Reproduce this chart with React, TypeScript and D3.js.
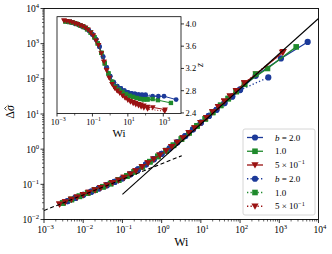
import React from "react";
import * as d3 from "d3";

// ---- data: b = 2.0 (blue) ----
const BS_WI = [0.004, 0.0063, 0.01, 0.016, 0.025, 0.04, 0.063, 0.1, 0.16, 0.25, 0.4, 0.63, 1, 1.6, 2.5, 4, 6.3, 10, 16, 25, 40, 63, 100, 250, 1100, 5300];
const BS_SIG = [0.0335, 0.0411, 0.0504, 0.0619, 0.0763, 0.0944, 0.117, 0.148, 0.194, 0.265, 0.37, 0.52, 0.735, 1.06, 1.57, 2.35, 3.66, 5.67, 8.84, 13.2, 20.5, 32, 50, 122, 380, 1120];
const BS_Z = [4.04, 4.03, 4.01, 3.99, 3.96, 3.93, 3.88, 3.81, 3.72, 3.59, 3.41, 3.22, 3.06, 2.95, 2.88, 2.84, 2.8, 2.77, 2.75, 2.74, 2.73, 2.72, 2.71, 2.7, 2.7, 2.64];
const BD_WI = [0.004, 0.0063, 0.01, 0.016, 0.025, 0.04, 0.063, 0.1, 0.16, 0.25, 0.4, 0.63, 1, 1.6, 2.5, 4, 6.3, 10, 16, 25, 40, 63, 100, 525];
const BD_SIG = [0.0335, 0.0411, 0.0504, 0.0619, 0.0763, 0.0944, 0.117, 0.148, 0.194, 0.265, 0.37, 0.52, 0.735, 1.06, 1.57, 2.35, 3.66, 5.67, 8.84, 13.2, 20.5, 31, 48, 110];
const BD_Z = [4.04, 4.03, 4.01, 3.99, 3.96, 3.93, 3.88, 3.81, 3.72, 3.59, 3.41, 3.22, 3.06, 2.95, 2.88, 2.84, 2.8, 2.77, 2.75, 2.74, 2.73, 2.73, 2.73, 2.7];

// ---- data: b = 1.0 (green) ----
const GS_WI = [0.003, 0.005, 0.008, 0.013, 0.02, 0.032, 0.05, 0.08, 0.13, 0.2, 0.32, 0.5, 0.8, 1.3, 2, 3.2, 5, 8, 13, 20, 32, 50, 80, 130, 500, 2700];
const GS_SIG = [0.0295, 0.0371, 0.0457, 0.0566, 0.0687, 0.0853, 0.105, 0.132, 0.1726, 0.2265, 0.315, 0.44, 0.621, 0.906, 1.29, 1.94, 2.92, 4.59, 7.31, 11.1, 17.6, 27.4, 43.7, 72, 197, 810];
const GS_Z = [4.045, 4.035, 4.02, 4.0, 3.975, 3.945, 3.905, 3.845, 3.76, 3.65, 3.48, 3.29, 3.11, 2.96, 2.87, 2.82, 2.78, 2.74, 2.71, 2.69, 2.67, 2.66, 2.65, 2.65, 2.63, 2.58];
const GD_WI = [0.003, 0.005, 0.008, 0.013, 0.02, 0.032, 0.05, 0.08, 0.13, 0.2, 0.32, 0.5, 0.8, 1.3, 2, 3.2, 5, 8, 13, 20, 32, 50, 80, 130, 250];
const GD_SIG = [0.0295, 0.0371, 0.0457, 0.0566, 0.0687, 0.0853, 0.105, 0.132, 0.1726, 0.2265, 0.315, 0.44, 0.621, 0.906, 1.29, 1.94, 2.92, 4.59, 7.31, 11.1, 17.6, 27.4, 43.7, 70, 137];
const GD_Z = [4.045, 4.035, 4.02, 4.0, 3.975, 3.945, 3.905, 3.845, 3.76, 3.65, 3.48, 3.29, 3.11, 2.96, 2.87, 2.82, 2.78, 2.74, 2.71, 2.69, 2.67, 2.65, 2.64, 2.64, 2.65];

// ---- data: b = 5e-1 (red) ----
const RS_WI = [0.0025, 0.0035, 0.005, 0.007, 0.01, 0.014, 0.02, 0.028, 0.04, 0.056, 0.08, 0.11, 0.16, 0.22, 0.32, 0.45, 0.63, 0.9, 1.3, 1.8, 2.5, 3.5, 5, 7, 10, 14, 20, 28, 40, 56, 80, 130, 256, 1270];
const RS_SIG = [0.0272, 0.0316, 0.0371, 0.0431, 0.0504, 0.0586, 0.0687, 0.0802, 0.0946, 0.111, 0.132, 0.156, 0.195, 0.242, 0.315, 0.405, 0.52, 0.678, 0.906, 1.18, 1.56, 2.1, 2.92, 4.04, 5.67, 7.83, 11.5, 16, 23, 32, 46, 76, 135, 590];
const RS_Z = [4.06, 4.05, 4.04, 4.03, 4.01, 3.995, 3.975, 3.955, 3.93, 3.895, 3.845, 3.79, 3.7, 3.62, 3.47, 3.32, 3.17, 3.03, 2.92, 2.85, 2.8, 2.76, 2.72, 2.68, 2.65, 2.62, 2.6, 2.58, 2.56, 2.55, 2.53, 2.51, 2.5, 2.46];
const RD_WI = [0.0025, 0.0035, 0.005, 0.007, 0.01, 0.014, 0.02, 0.028, 0.04, 0.056, 0.08, 0.11, 0.16, 0.22, 0.32, 0.45, 0.63, 0.9, 1.3, 1.8, 2.5, 3.5, 5, 7, 10, 14, 20, 28, 40, 56, 80, 130, 1200];
const RD_SIG = [0.0272, 0.0316, 0.0371, 0.0431, 0.0504, 0.0586, 0.0687, 0.0802, 0.0946, 0.111, 0.132, 0.156, 0.195, 0.242, 0.315, 0.405, 0.52, 0.678, 0.906, 1.18, 1.56, 2.1, 2.92, 4.04, 5.67, 7.83, 11.5, 16, 23, 32, 46, 76, 560];
const RD_Z = [4.06, 4.05, 4.04, 4.03, 4.01, 3.995, 3.975, 3.955, 3.93, 3.895, 3.845, 3.79, 3.7, 3.62, 3.47, 3.32, 3.17, 3.03, 2.92, 2.85, 2.8, 2.76, 2.71, 2.67, 2.63, 2.6, 2.57, 2.55, 2.53, 2.51, 2.49, 2.47, 2.43];

// reference lines (endpoints)
const DASHED_WI = [0.001, 3.26];
const DASHED_SIG = [0.018, 0.65];
const SOLID_WI = [0.1, 10000];
const SOLID_SIG = [0.052, 5200];

// ticks
const MAIN_X_TICKS = [1e-3, 1e-2, 1e-1, 1e0, 1e1, 1e2, 1e3, 1e4];
const MAIN_X_EXP = ["−3", "−2", "−1", "0", "1", "2", "3", "4"];
const MAIN_Y_TICKS = [1e-2, 1e-1, 1e0, 1e1, 1e2, 1e3, 1e4];
const MAIN_Y_EXP = ["−2", "−1", "0", "1", "2", "3", "4"];
const INSET_X_TICKS = [1e-3, 1e-1, 1e1, 1e3];
const INSET_X_EXP = ["−3", "−1", "1", "3"];
const INSET_X_MINOR = [1e-2, 1e0, 1e2];
const INSET_Y_TICKS = [2.4, 2.8, 3.2, 3.6, 4.0];
const LEGEND_LABELS = ["b = 2.0", "1.0", "5 × 10^−1", "b = 2.0", "1.0", "5 × 10^−1"];

const BLUE = "#1c3a99";
const GREEN = "#1f8a2c";
const RED = "#9a1212";
const FONT = "'Liberation Serif', 'DejaVu Serif', serif";

type Shape = "circle" | "square" | "tri";
const SERIES = [
  { wi: BS_WI, sig: BS_SIG, z: BS_Z, color: BLUE, shape: "circle" as Shape, dotted: false, label: LEGEND_LABELS[0] },
  { wi: GS_WI, sig: GS_SIG, z: GS_Z, color: GREEN, shape: "square" as Shape, dotted: false, label: LEGEND_LABELS[1] },
  { wi: RS_WI, sig: RS_SIG, z: RS_Z, color: RED, shape: "tri" as Shape, dotted: false, label: LEGEND_LABELS[2] },
  { wi: BD_WI, sig: BD_SIG, z: BD_Z, color: BLUE, shape: "circle" as Shape, dotted: true, label: LEGEND_LABELS[3] },
  { wi: GD_WI, sig: GD_SIG, z: GD_Z, color: GREEN, shape: "square" as Shape, dotted: true, label: LEGEND_LABELS[4] },
  { wi: RD_WI, sig: RD_SIG, z: RD_Z, color: RED, shape: "tri" as Shape, dotted: true, label: LEGEND_LABELS[5] },
];

function Marker({ shape, cx, cy, color, s }: { shape: Shape; cx: number; cy: number; color: string; s: number }) {
  if (shape === "circle") return <circle cx={cx} cy={cy} r={3.1 * s} fill={color} />;
  if (shape === "square") {
    const h = 2.8 * s;
    return <rect x={cx - h} y={cy - h} width={2 * h} height={2 * h} fill={color} />;
  }
  const w = 3.6 * s;
  return <path d={`M${cx - w},${cy - w * 0.75} L${cx + w},${cy - w * 0.75} L${cx},${cy + w * 1.0} Z`} fill={color} />;
}

function Pow({ x, y, exp, anchor, size }: { x: number; y: number; exp: string; anchor: string; size: number }) {
  return (
    <text x={x} y={y} textAnchor={anchor} fontSize={size} fontFamily={FONT} fill="#000">
      10<tspan dy={-size * 0.42} fontSize={size * 0.7}>{exp}</tspan>
    </text>
  );
}

function LegendLabel({ x, y, label }: { x: number; y: number; label: string }) {
  const fs = 9;
  if (label.startsWith("b")) {
    return (
      <text x={x} y={y} fontSize={fs} fontFamily={FONT}>
        <tspan fontStyle="italic">b</tspan> = 2.0
      </text>
    );
  }
  if (label.includes("^")) {
    const [base, exp] = label.split("^");
    return (
      <text x={x} y={y} fontSize={fs} fontFamily={FONT}>
        {base}
        <tspan dy={-3.6} fontSize={fs * 0.7}>{exp}</tspan>
      </text>
    );
  }
  return (
    <text x={x} y={y} fontSize={fs} fontFamily={FONT}>
      {label}
    </text>
  );
}

export default function App() {
  const W = 332, H = 254;
  const x = d3.scaleLog().domain([1e-3, 1e4]).range([44, 318.5]);
  const y = d3.scaleLog().domain([1e-2, 1e4]).range([219.5, 8.5]);
  const ix = d3.scaleLog().domain([1e-3, 1e4]).range([57, 181]);
  const iy = d3.scaleLinear().domain([2.39, 4.13]).range([113.5, 16.7]);

  const [x0, x1] = x.range();
  const [y0, y1] = y.range();
  const [ix0, ix1] = ix.range();
  const [iy0, iy1] = iy.range();

  const mainLine = (wi: number[], v: number[]) =>
    d3.line<number>().x((_, i) => x(wi[i])).y((d) => y(d))(v) || "";
  const insetLine = (wi: number[], v: number[]) =>
    d3.line<number>().x((_, i) => ix(wi[i])).y((d) => iy(d))(v) || "";

  const minorX: number[] = [];
  for (let e = -3; e < 4; e++) for (let j = 2; j <= 9; j++) minorX.push(j * Math.pow(10, e));
  const minorY: number[] = [];
  for (let e = -2; e < 4; e++) for (let j = 2; j <= 9; j++) minorY.push(j * Math.pow(10, e));

  const legendX = 243, legendY = 129, legendW = 72, legendH = 86;
  const rowY = (i: number) => 137.5 + i * 13.75;

  return (
    <svg width={W} height={H} style={{ position: "absolute", left: 0, top: 0, background: "#fff" }}>
      <defs>
        <clipPath id="mainClip">
          <rect x={x0} y={y1} width={x1 - x0} height={y0 - y1} />
        </clipPath>
        <clipPath id="insetClip">
          <rect x={ix0} y={iy1} width={ix1 - ix0} height={iy0 - iy1} />
        </clipPath>
      </defs>
      <rect x={0} y={0} width={W} height={H} fill="#fff" />

      {/* main data */}
      <g clipPath="url(#mainClip)">
        {SERIES.map((s, k) => (
          <g key={k}>
            <path d={mainLine(s.wi, s.sig)} fill="none" stroke={s.color} strokeWidth={1.3}
              strokeDasharray={s.dotted ? "1.3,2.2" : undefined} />
            {s.wi.map((w, i) => (
              <Marker key={i} shape={s.shape} cx={x(w)} cy={y(s.sig[i])} color={s.color} s={1} />
            ))}
          </g>
        ))}
        <path d={mainLine(DASHED_WI, DASHED_SIG)} fill="none" stroke="#000" strokeWidth={1.1} strokeDasharray="4,2.6" />
        <path d={mainLine(SOLID_WI, SOLID_SIG)} fill="none" stroke="#000" strokeWidth={1.1} />
      </g>

      {/* main axes */}
      <rect x={x0} y={y1} width={x1 - x0} height={y0 - y1} fill="none" stroke="#000" strokeWidth={0.9} />
      {minorX.map((t, i) => (
        <line key={i} x1={x(t)} x2={x(t)} y1={y0} y2={y0 + 2} stroke="#000" strokeWidth={0.6} />
      ))}
      {minorY.map((t, i) => (
        <line key={i} x1={x0} x2={x0 - 2} y1={y(t)} y2={y(t)} stroke="#000" strokeWidth={0.6} />
      ))}
      {MAIN_X_TICKS.map((t, i) => (
        <g key={i}>
          <line x1={x(t)} x2={x(t)} y1={y0} y2={y0 + 3.5} stroke="#000" strokeWidth={0.8} />
          <Pow x={x(t) + 1.5} y={y0 + 13.5} exp={MAIN_X_EXP[i]} anchor="middle" size={9.5} />
        </g>
      ))}
      {MAIN_Y_TICKS.map((t, i) => (
        <g key={i}>
          <line x1={x0} x2={x0 - 3.5} y1={y(t)} y2={y(t)} stroke="#000" strokeWidth={0.8} />
          <Pow x={x0 - 5} y={y(t) + 3.5} exp={MAIN_Y_EXP[i]} anchor="end" size={9.5} />
        </g>
      ))}
      <text x={(x0 + x1) / 2} y={246} textAnchor="middle" fontSize={12} fontFamily={FONT}>Wi</text>
      <g transform={`translate(14, ${(y0 + y1) / 2 - 2}) rotate(-90)`}>
        <text x={0} y={0} textAnchor="middle" fontSize={12} fontFamily={FONT}>
          Δ<tspan fontStyle="italic">σ</tspan>
        </text>
        <path d="M1.6,-7.4 L3.6,-9.4 L5.6,-7.4" fill="none" stroke="#000" strokeWidth={0.8} />
      </g>

      {/* inset */}
      <rect x={ix0} y={iy1} width={ix1 - ix0} height={iy0 - iy1} fill="#fff" />
      <g clipPath="url(#insetClip)">
        {SERIES.map((s, k) => (
          <g key={k}>
            <path d={insetLine(s.wi, s.z)} fill="none" stroke={s.color} strokeWidth={1}
              strokeDasharray={s.dotted ? "1,1.8" : undefined} />
            {s.wi.map((w, i) => (
              <Marker key={i} shape={s.shape} cx={ix(w)} cy={iy(s.z[i])} color={s.color} s={0.78} />
            ))}
          </g>
        ))}
      </g>
      <rect x={ix0} y={iy1} width={ix1 - ix0} height={iy0 - iy1} fill="none" stroke="#000" strokeWidth={0.8} />
      {INSET_X_MINOR.map((t, i) => (
        <line key={i} x1={ix(t)} x2={ix(t)} y1={iy0} y2={iy0 + 2} stroke="#000" strokeWidth={0.6} />
      ))}
      {INSET_X_TICKS.map((t, i) => (
        <g key={i}>
          <line x1={ix(t)} x2={ix(t)} y1={iy0} y2={iy0 + 3} stroke="#000" strokeWidth={0.8} />
          <Pow x={ix(t) + 1.2} y={iy0 + 11} exp={INSET_X_EXP[i]} anchor="middle" size={8.5} />
        </g>
      ))}
      {INSET_Y_TICKS.map((t, i) => (
        <g key={i}>
          <line x1={ix1} x2={ix1 + 3} y1={iy(t)} y2={iy(t)} stroke="#000" strokeWidth={0.8} />
          <text x={ix1 + 4.5} y={iy(t) + 3} fontSize={8.5} fontFamily={FONT}>{t.toFixed(1)}</text>
        </g>
      ))}
      <text x={(ix0 + ix1) / 2} y={137} textAnchor="middle" fontSize={11} fontFamily={FONT}>Wi</text>
      <text transform={`translate(203, ${(iy0 + iy1) / 2}) rotate(-90)`} textAnchor="middle" fontSize={10} fontStyle="italic" fontFamily={FONT}>z</text>

      {/* legend */}
      <rect x={legendX} y={legendY} width={legendW} height={legendH} rx={2} fill="#fff" fillOpacity={0.85} stroke="#cccccc" strokeWidth={0.8} />
      {SERIES.map((s, i) => (
        <g key={i}>
          <line x1={247} x2={263} y1={rowY(i)} y2={rowY(i)} stroke={s.color} strokeWidth={1.3}
            strokeDasharray={s.dotted ? "1.3,2.2" : undefined} />
          <Marker shape={s.shape} cx={255} cy={rowY(i)} color={s.color} s={1} />
          <LegendLabel x={275} y={rowY(i) + 3} label={s.label} />
        </g>
      ))}
    </svg>
  );
}
